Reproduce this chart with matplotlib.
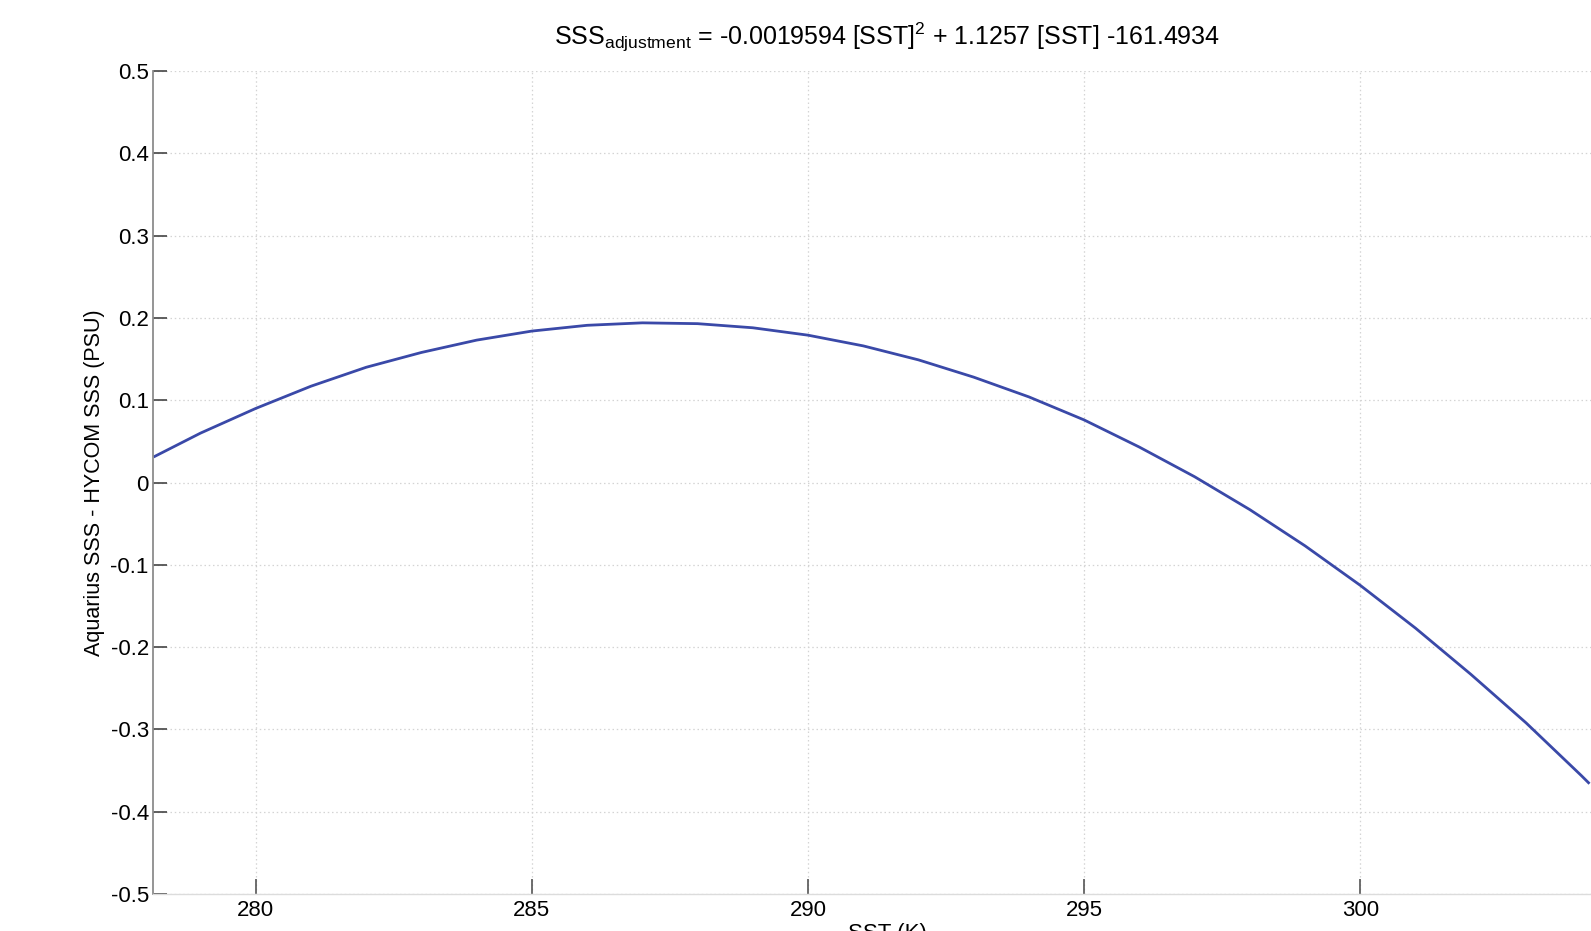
import matplotlib
matplotlib.use("Agg")
import matplotlib.pyplot as plt

plt.rcParams["font.family"] = ["Liberation Sans", "DejaVu Sans"]
plt.rcParams["mathtext.fontset"] = "custom"
plt.rcParams["mathtext.rm"] = "Liberation Sans"
plt.rcParams["mathtext.it"] = "Liberation Sans:italic"
plt.rcParams["mathtext.bf"] = "Liberation Sans:bold"

# SST (K) and the salinity adjustment (PSU) along the fitted curve
sst = [278.15, 279, 280, 281, 282, 283, 284, 285, 286, 287, 288, 289, 290,
       291, 292, 293, 294, 295, 296, 297, 298, 299, 300, 301, 302, 303, 304,
       304.15]
sss_adj = [0.031, 0.060, 0.090, 0.117, 0.140, 0.158, 0.173, 0.184, 0.191,
           0.194, 0.193, 0.188, 0.179, 0.166, 0.149, 0.128, 0.104, 0.076,
           0.043, 0.007, -0.033, -0.077, -0.125, -0.177, -0.233, -0.292,
           -0.356, -0.366]

x_ticks = [280, 285, 290, 295, 300]
y_ticks = [0.5, 0.4, 0.3, 0.2, 0.1, 0, -0.1, -0.2, -0.3, -0.4, -0.5]
y_tick_labels = ["0.5", "0.4", "0.3", "0.2", "0.1", "0", "-0.1", "-0.2",
                 "-0.3", "-0.4", "-0.5"]

title_text = (r"SSS$_{\mathrm{adjustment}}$ = -0.0019594 [SST]$^{\mathrm{2}}$"
              r" + 1.1257 [SST] -161.4934")
x_label = "SST (K)"
y_label = "Aquarius SSS - HYCOM SSS (PSU)"

W, H = 1591, 931
fig = plt.figure(figsize=(W / 100, H / 100), dpi=100)
left_px, right_px, top_px, bottom_px = 153, 1621, 71, 894
ax = fig.add_axes([left_px / W, 1 - bottom_px / H,
                   (right_px - left_px) / W, (bottom_px - top_px) / H])

ax.plot(sst, sss_adj, color="#3a49a8", linewidth=2.0,
        solid_joinstyle="round", solid_capstyle="butt")

ax.set_xlim(278.14, 304.72)
ax.set_ylim(-0.5, 0.5)
ax.set_xticks(x_ticks)
ax.set_yticks(y_ticks)
ax.set_yticklabels(y_tick_labels)

ax.grid(True, color="#d4d4d4", linestyle=(0, (1.2, 2.2)), linewidth=0.9)
ax.set_axisbelow(True)

for side in ("top", "right"):
    ax.spines[side].set_visible(False)
ax.spines["left"].set_color("#8c8c8c")
ax.spines["left"].set_linewidth(1.3)
ax.spines["bottom"].set_color("#dcdcdc")
ax.spines["bottom"].set_linewidth(1.0)

ax.tick_params(axis="y", direction="in", length=10, width=1.2,
               color="#444444", labelsize=16, pad=3)
ax.tick_params(axis="x", direction="in", length=11, width=1.2,
               color="#555555", labelsize=16, pad=4)

ax.set_title(title_text, fontsize=18, pad=19)

ax.set_ylabel(y_label, fontsize=15.5, va="center")
ax.yaxis.set_label_coords((95 - left_px) / (right_px - left_px), 0.5)
ax.set_xlabel(x_label, fontsize=16, va="top")
ax.xaxis.set_label_coords((887 - left_px) / (right_px - left_px),
                          (bottom_px - 923) / (bottom_px - top_px))

fig.savefig("out.png", dpi=100)
